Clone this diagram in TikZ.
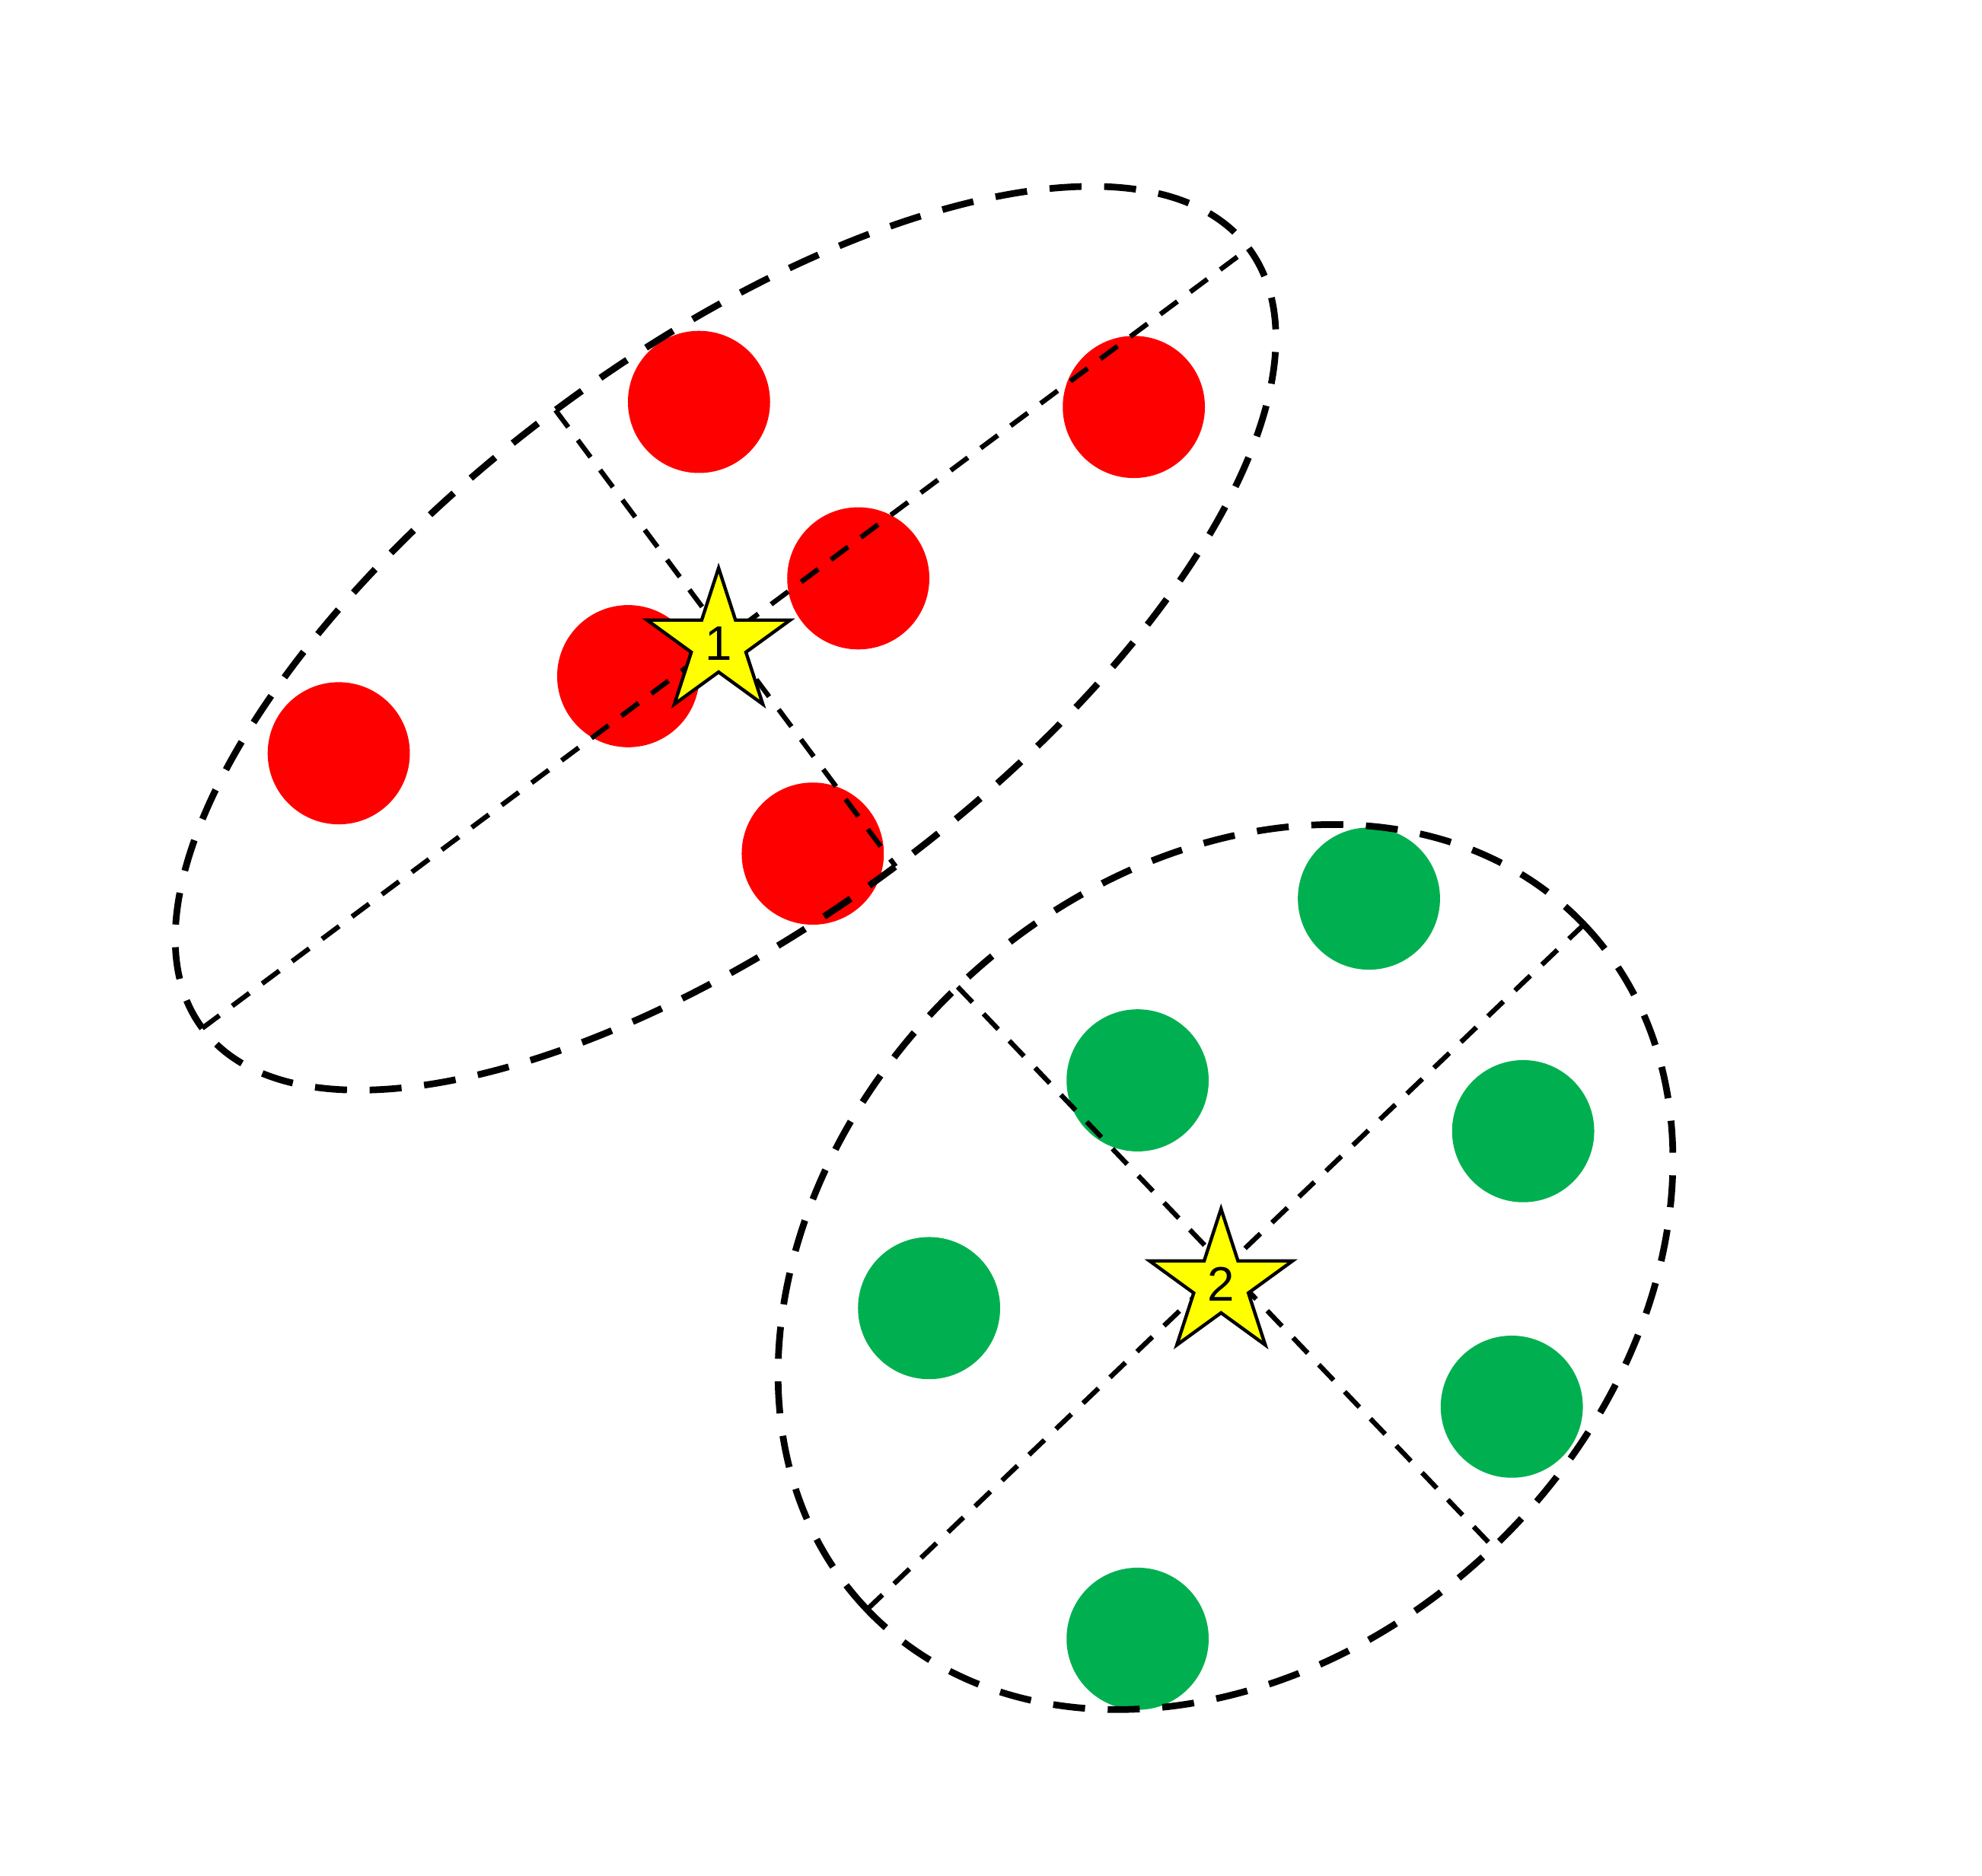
\documentclass[tikz,border=0pt]{standalone}
\usepackage{fontspec}
\setmainfont{Liberation Sans}
\usetikzlibrary{shapes.geometric}
\definecolor{dotred}{HTML}{FF0000}
\definecolor{dotgreen}{HTML}{00B050}
\definecolor{staryellow}{HTML}{FFFF00}
\tikzset{
  dotbase/.style={circle, draw=none, inner sep=0pt, minimum size=1.124cm},
  reddot/.style={dotbase, fill=dotred},
  greendot/.style={dotbase, fill=dotgreen},
  ellline/.style={line width=1.5pt, dash pattern=on 7.2pt off 5.1pt},
  axisline/.style={line width=1.1pt, dash pattern=on 4.8pt off 3.6pt},
  starnode/.style={star, star points=5, star point ratio=2.618, minimum size=1.19cm,
    inner sep=0pt, fill=staryellow, draw=black, line width=0.75pt,
    font=\fontsize{10.9}{12}\selectfont}
}
\begin{document}
\begin{tikzpicture}[x=0.01cm,y=0.01cm]
\useasboundingbox[fill=white] (0,0) rectangle (1568,1484);
% red dots
\node[reddot] (r1) at (553,1166) {};
\node[reddot] (r2) at (897,1162) {};
\node[reddot] (r3) at (679,1026.4) {};
\node[reddot] (r4) at (497,949) {};
\node[reddot] (r5) at (268,888) {};
\node[reddot] (r6) at (643,808.6) {};
% green dots
\node[greendot] (g1) at (1083,773) {};
\node[greendot] (g2) at (900,629.2) {};
\node[greendot] (g3) at (1205,589) {};
\node[greendot] (g4) at (735,449) {};
\node[greendot] (g5) at (1196,371) {};
\node[greendot] (g6) at (900,187.4) {};
% red ellipse
\begin{scope}[shift={(574,979)}, rotate=36.7]
  \coordinate (ra1) at (5.16cm,0);
  \coordinate (ra2) at (-5.16cm,0);
  \coordinate (rb1) at (0,2.25cm);
  \coordinate (rb2) at (0,-2.25cm);
  \draw[ellline] (ra1) arc[start angle=0, end angle=-180, x radius=5.16cm, y radius=2.25cm];
  \draw[ellline] (ra2) arc[start angle=180, end angle=0, x radius=5.16cm, y radius=2.25cm];
\end{scope}
\draw[axisline] (ra2) -- (ra1);
\draw[axisline] (rb1) -- (rb2);
% green ellipse
\begin{scope}[shift={(969.5,481.5)}, rotate=43.7]
  \coordinate (ga1) at (3.92cm,0);
  \coordinate (ga2) at (-3.92cm,0);
  \coordinate (gb1) at (0,3.065cm);
  \coordinate (gb2) at (0,-3.065cm);
  \draw[ellline] (ga1) arc[start angle=0, end angle=-180, x radius=3.92cm, y radius=3.065cm];
  \draw[ellline] (ga2) arc[start angle=180, end angle=0, x radius=3.92cm, y radius=3.065cm];
\end{scope}
\draw[axisline] (ga2) -- (ga1);
\draw[axisline] (gb1) -- (gb2);
% stars
\node[starnode] (s1) at (568.5,975) {\raisebox{-0.04cm}{1}};
\node[starnode] (s2) at (966,468) {\raisebox{-0.04cm}{2}};
\end{tikzpicture}
\end{document}
